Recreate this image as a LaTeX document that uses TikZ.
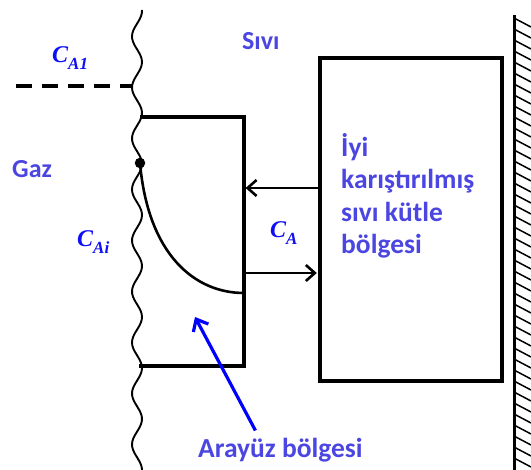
\documentclass[tikz,border=0pt]{standalone}
\usepackage{fontspec}
\setmainfont{Carlito}
\newfontfamily\cfont{Liberation Serif}
\usepackage{tikz}
\usetikzlibrary{arrows.meta, calc}
\definecolor{labelblue}{RGB}{75, 70, 225}
\definecolor{symblue}{RGB}{15, 15, 245}
\definecolor{pointblue}{RGB}{0, 0, 255}
\newcommand{\conc}[1]{C\raisebox{-7pt}{\fontsize{17}{17}\selectfont #1}}

\begin{document}
\begin{tikzpicture}[x=1pt, y=-1pt,
    every node/.style={inner sep=0pt},
    lbl/.style={font=\fontsize{26}{32.5}\selectfont\bfseries, text=labelblue},
    wlbl/.style={font=\fontsize{27.5}{32.5}\selectfont\bfseries, text=labelblue},
    clbl/.style={font=\fontsize{24}{26}\selectfont\cfont\bfseries\itshape, text=symblue},
    zone/.style={draw=black, line width=3.2pt},
    flux/.style={-{Straight Barb[length=9pt, width=16pt]}, line width=2.6pt, shorten >=1.6pt},
    pointer/.style={-{Straight Barb[length=10pt, width=17pt]}, line width=3.2pt, pointblue},
    wavy/.style={line width=1.9pt},
    hatch/.style={line width=1.5pt}
]
\useasboundingbox (0,0) rectangle (531,470);

% Gas-liquid interface
\draw[wavy] plot[domain=10:470, samples=160, smooth] ({137+5*cos(7.0588*(\x-62))}, \x);
\coordinate (lvlL) at (16,86);
\coordinate (lvlR) at (133,86);
\draw[line width=3.2pt, dash pattern=on 16pt off 10pt] (lvlL) -- (lvlR);

% Interface region
\coordinate (ifTL) at (140,117);
\coordinate (ifTR) at (244,117);
\coordinate (ifBR) at (244,366);
\coordinate (ifBL) at (139,366);
\draw[zone] (ifTL) -- (ifTR) -- (ifBR) -- (ifBL);
\node[circle, fill=black, minimum size=10.5pt] (contact) at (140,163) {};
\coordinate (ifprof) at (244,293);
\draw[line width=2.6pt] (contact.center) .. controls (148,255) and (195,293) .. (ifprof);

% Bulk liquid
\node[zone, minimum width=182pt, minimum height=323pt] (bulk) at (411,219.5) {};
\node[wlbl, anchor=base west, align=left] (bulktxt) at (341,254) {İyi\\karıştırılmış\\sıvı kütle\\bölgesi};

\coordinate (ifin) at (244,188);
\coordinate (ifout) at (244,273);
\draw[flux] (bulk.west |- ifin) -- (ifin);
\draw[flux] (ifout) -- (bulk.west |- ifout);

% Wall
\coordinate (wtop) at (514,15);
\coordinate (wbot) at (514,470);
\draw[line width=3pt] (wtop) -- (wbot);
\foreach \y in {18,29,...,465}
    \draw[hatch] (514,\y) -- (531,\y+9);

% Labels
\node[lbl, anchor=base west] (liq) at (242,50) {Sıvı};
\node[lbl, anchor=base west] (gas) at (12,178) {Gaz};
\node[clbl, anchor=base west] (ca1) at (52,63) {\conc{A1}};
\node[clbl, anchor=base west] (cai) at (77,247) {\conc{Ai}};
\node[clbl, anchor=base west] (ca) at (270,238) {\conc{A}};
\node[wlbl, anchor=base west] (arayuz) at (198,458) {Arayüz bölgesi};
\coordinate (phead) at (195,317);
\draw[pointer] ([xshift=-25pt, yshift=8pt]arayuz.north) -- (phead);

\end{tikzpicture}
\end{document}
